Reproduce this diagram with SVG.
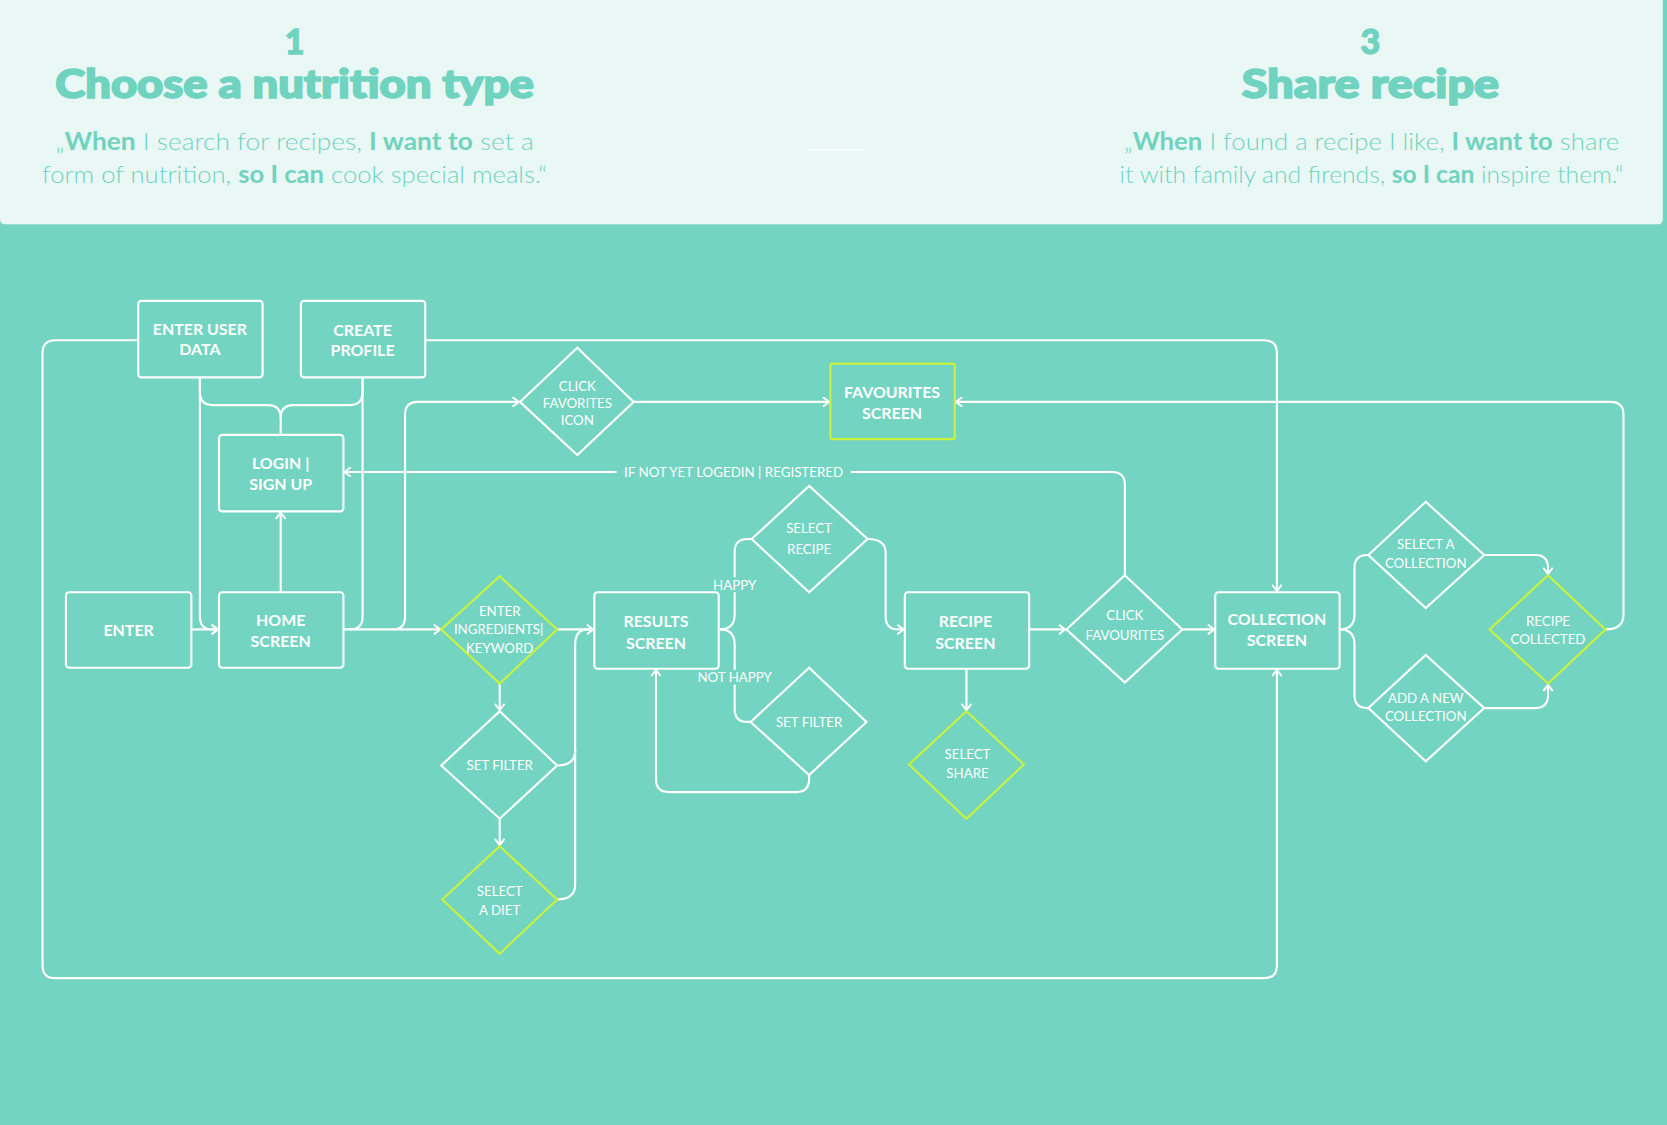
<svg xmlns="http://www.w3.org/2000/svg" width="1667" height="1125" viewBox="0 0 1667 1125">
<defs>
<style>
.bg{fill:#73d4c1}
.box{fill:none;stroke:#ffffff;stroke-width:2}
.gbox{fill:none;stroke:#c9f23c;stroke-width:2}
.con{fill:none;stroke:#ffffff;stroke-width:2}
.bt{font-family:Lato,"Open Sans","DejaVu Sans",sans-serif;font-weight:700;font-size:15px;fill:#ffffff;text-anchor:middle}
.dt{font-family:Lato,"Open Sans","DejaVu Sans",sans-serif;font-weight:400;font-size:12.5px;fill:#ffffff;text-anchor:middle}
.num{font-family:Lato,"Open Sans","DejaVu Sans",sans-serif;font-weight:900;font-size:32px;fill:#6fd3bf;stroke:#6fd3bf;stroke-width:1.2;text-anchor:middle}
.ttl{font-family:Lato,"Open Sans","DejaVu Sans",sans-serif;font-weight:900;font-size:37px;fill:#6fd3bf;stroke:#6fd3bf;stroke-width:1.6;text-anchor:middle}
.q{font-family:Lato,"Open Sans","DejaVu Sans",sans-serif;font-weight:300;font-size:23px;fill:#6fd3bf;text-anchor:middle}
.qb{font-weight:700}
</style>
<marker id="ah" viewBox="0 0 10 10" refX="9" refY="5" markerWidth="10" markerHeight="10" markerUnits="userSpaceOnUse" orient="auto">
<path d="M3,0.5 L9,5 L3,9.5" fill="none" stroke="#ffffff" stroke-width="1.8"/>
</marker>
</defs>
<rect class="bg" x="0" y="0" width="1667" height="1125"/>
<g transform="scale(1.0632)">
<g id="header">
<path d="M0,0 H1564 V206 Q1564,211 1559,211 H5 Q0,211 0,206 Z" fill="#eaf8f5"/>
<line x1="758" y1="141" x2="812" y2="141" stroke="#ffffff" stroke-width="1.5" opacity="0.7"/>
<text class="num" x="277" y="51">1</text>
<text class="ttl" x="277" y="92" textLength="450" lengthAdjust="spacingAndGlyphs">Choose a nutrition type</text>
<text class="q" x="277" y="141" textLength="450" lengthAdjust="spacingAndGlyphs">„<tspan class="qb">When</tspan> I search for recipes, <tspan class="qb">I want to</tspan> set a</text>
<text class="q" x="277" y="172" textLength="475" lengthAdjust="spacingAndGlyphs">form of nutrition, <tspan class="qb">so I can</tspan> cook special meals.“</text>
<text class="num" x="1289" y="51">3</text>
<text class="ttl" x="1289" y="92" textLength="242" lengthAdjust="spacingAndGlyphs">Share recipe</text>
<text class="q" x="1290" y="141" textLength="466" lengthAdjust="spacingAndGlyphs">„<tspan class="qb">When</tspan> I found a recipe I like, <tspan class="qb">I want to</tspan> share</text>
<text class="q" x="1290" y="172" textLength="474" lengthAdjust="spacingAndGlyphs">it with family and firends, <tspan class="qb">so I can</tspan> inspire them.“</text>
</g>
<g id="connectors">
<path class="con" d="M130,320 H52 Q40,320 40,332 V908 Q40,920 52,920 H1189 Q1201,920 1201,908 V630" marker-end="url(#ah)"/>
<path class="con" d="M400,320 H1189 Q1201,320 1201,332 V556" marker-end="url(#ah)"/>
<path class="con" d="M180,592 H205" marker-end="url(#ah)"/>
<path class="con" d="M188,355 V580 Q188,592 200,592 H205" marker-end="url(#ah)"/>
<path class="con" d="M188,355 V369 Q188,381 200,381 H252 Q264,381 264,393 V409"/>
<path class="con" d="M341,355 V369 Q341,381 329,381 H276 Q264,381 264,393"/>
<path class="con" d="M341,355 V580 Q341,592 329,592"/>
<path class="con" d="M323,592 H414" marker-end="url(#ah)"/>
<path class="con" d="M369,592 Q381,592 381,580 V390 Q381,378 393,378 H488" marker-end="url(#ah)"/>
<path class="con" d="M264,557 V482" marker-end="url(#ah)"/>
<path class="con" d="M596,378 H780" marker-end="url(#ah)"/>
<path class="con" d="M1058,541 V456 Q1058,444 1046,444 H800"/>
<path class="con" d="M580,444 H324" marker-end="url(#ah)"/>
<path class="con" d="M524,592 H558" marker-end="url(#ah)"/>
<path class="con" d="M524,720 Q541,720 541,706 V606 Q541,592 553,592 H558"/>
<path class="con" d="M524,846 Q541,846 541,832 V704"/>
<path class="con" d="M470,643 V668" marker-end="url(#ah)"/>
<path class="con" d="M470,770 V795" marker-end="url(#ah)"/>
<path class="con" d="M677,592 Q691,592 691,578 V519 Q691,507 703,507 H707"/>
<path class="con" d="M677,592 Q691,592 691,606 V667 Q691,679 703,679 H706"/>
<path class="con" d="M816,507 Q833,507 833,520 V580 Q833,592 845,592 H850" marker-end="url(#ah)"/>
<path class="con" d="M761,729 V733 Q761,745 749,745 H629 Q617,745 617,733 V630" marker-end="url(#ah)"/>
<path class="con" d="M968,592 H1002" marker-end="url(#ah)"/>
<path class="con" d="M909,629 V668" marker-end="url(#ah)"/>
<path class="con" d="M1112,592 H1142" marker-end="url(#ah)"/>
<path class="con" d="M1260,592 Q1274,592 1274,578 V534 Q1274,522 1286,522 H1287"/>
<path class="con" d="M1260,592 Q1274,592 1274,606 V654 Q1274,666 1286,666 H1287"/>
<path class="con" d="M1396,522 H1444 Q1456,522 1456,534 V540" marker-end="url(#ah)"/>
<path class="con" d="M1396,666 H1444 Q1456,666 1456,654 V644" marker-end="url(#ah)"/>
<path class="con" d="M1510,592 Q1527,592 1527,578 V390 Q1527,378 1515,378 H899" marker-end="url(#ah)"/>
<text class="dt" x="690" y="448.5" textLength="206" lengthAdjust="spacingAndGlyphs">IF NOT YET LOGEDIN | REGISTERED</text>
<rect class="bg" x="672" y="543" width="38" height="14"/>
<text class="dt" x="691" y="554.5">HAPPY</text>
<rect class="bg" x="656" y="630" width="71" height="14"/>
<text class="dt" x="691" y="641.5">NOT HAPPY</text>
</g>
<g id="enter-user-data">
<rect class="box" x="130" y="283" width="117" height="72" rx="3"/>
<text class="bt" x="188" y="315">ENTER USER</text>
<text class="bt" x="188" y="334">DATA</text>
</g>
<g id="create-profile">
<rect class="box" x="283" y="283" width="117" height="72" rx="3"/>
<text class="bt" x="341" y="316">CREATE</text>
<text class="bt" x="341" y="335">PROFILE</text>
</g>
<g id="login">
<rect class="box" x="206" y="409" width="117" height="72" rx="3"/>
<text class="bt" x="264" y="441">LOGIN |</text>
<text class="bt" x="264" y="461">SIGN UP</text>
</g>
<g id="enter">
<rect class="box" x="62" y="557" width="118" height="71" rx="3"/>
<text class="bt" x="121" y="598">ENTER</text>
</g>
<g id="home-screen">
<rect class="box" x="206" y="557" width="117" height="71" rx="3"/>
<text class="bt" x="264" y="589">HOME</text>
<text class="bt" x="264" y="609">SCREEN</text>
</g>
<g id="click-favorites-icon">
<path class="box" d="M543,327 L596,378 L543,428 L489,378 Z"/>
<text class="dt" x="543" y="367.5">CLICK</text>
<text class="dt" x="543" y="383.5">FAVORITES</text>
<text class="dt" x="543" y="399.5">ICON</text>
</g>
<g id="favourites-screen">
<rect class="gbox" x="781" y="342" width="117" height="71" rx="2"/>
<text class="bt" x="839" y="374">FAVOURITES</text>
<text class="bt" x="839" y="394">SCREEN</text>
</g>
<g id="enter-ingredients">
<path class="gbox" d="M470,542 L524,592 L470,643 L415,592 Z"/>
<text class="dt" x="470" y="579.5">ENTER</text>
<text class="dt" x="469" y="596.5">INGREDIENTS|</text>
<text class="dt" x="470" y="614.5">KEYWORD</text>
</g>
<g id="results-screen">
<rect class="box" x="559" y="557" width="117" height="72" rx="3"/>
<text class="bt" x="617" y="590">RESULTS</text>
<text class="bt" x="617" y="610">SCREEN</text>
</g>
<g id="set-filter-1">
<path class="box" d="M470,669 L524,720 L470,770 L415,720 Z"/>
<text class="dt" x="470" y="724.5">SET FILTER</text>
</g>
<g id="select-a-diet">
<path class="gbox" d="M470,796 L524,846 L470,897 L416,846 Z"/>
<text class="dt" x="470" y="842.5">SELECT</text>
<text class="dt" x="470" y="860.5">A DIET</text>
</g>
<g id="select-recipe">
<path class="box" d="M761,457 L816,507 L761,557 L707,507 Z"/>
<text class="dt" x="761" y="501.5">SELECT</text>
<text class="dt" x="761" y="521.5">RECIPE</text>
</g>
<g id="set-filter-2">
<path class="box" d="M761,628 L815,679 L761,729 L706,679 Z"/>
<text class="dt" x="761" y="683.5">SET FILTER</text>
</g>
<g id="recipe-screen">
<rect class="box" x="851" y="557" width="117" height="72" rx="3"/>
<text class="bt" x="908" y="590">RECIPE</text>
<text class="bt" x="908" y="610">SCREEN</text>
</g>
<g id="select-share">
<path class="gbox" d="M909,669 L963,719 L909,770 L855,719 Z"/>
<text class="dt" x="910" y="713.5">SELECT</text>
<text class="dt" x="910" y="731.5">SHARE</text>
</g>
<g id="click-favourites">
<path class="box" d="M1058,541 L1112,592 L1058,642 L1003,592 Z"/>
<text class="dt" x="1058" y="583.5">CLICK</text>
<text class="dt" x="1058" y="601.5">FAVOURITES</text>
</g>
<g id="collection-screen">
<rect class="box" x="1143" y="557" width="117" height="72" rx="3"/>
<text class="bt" x="1201" y="588">COLLECTION</text>
<text class="bt" x="1201" y="608">SCREEN</text>
</g>
<g id="select-a-collection">
<path class="box" d="M1341,472 L1396,522 L1341,572 L1287,522 Z"/>
<text class="dt" x="1341" y="516.5">SELECT A</text>
<text class="dt" x="1341" y="534.5">COLLECTION</text>
</g>
<g id="add-a-new-collection">
<path class="box" d="M1341,616 L1396,666 L1341,716 L1287,666 Z"/>
<text class="dt" x="1341" y="661.5">ADD A NEW</text>
<text class="dt" x="1341" y="678.5">COLLECTION</text>
</g>
<g id="recipe-collected">
<path class="gbox" d="M1456,541 L1510,592 L1456,643 L1401,592 Z"/>
<text class="dt" x="1456" y="588.5">RECIPE</text>
<text class="dt" x="1456" y="605.5">COLLECTED</text>
</g>
</g>
</svg>
